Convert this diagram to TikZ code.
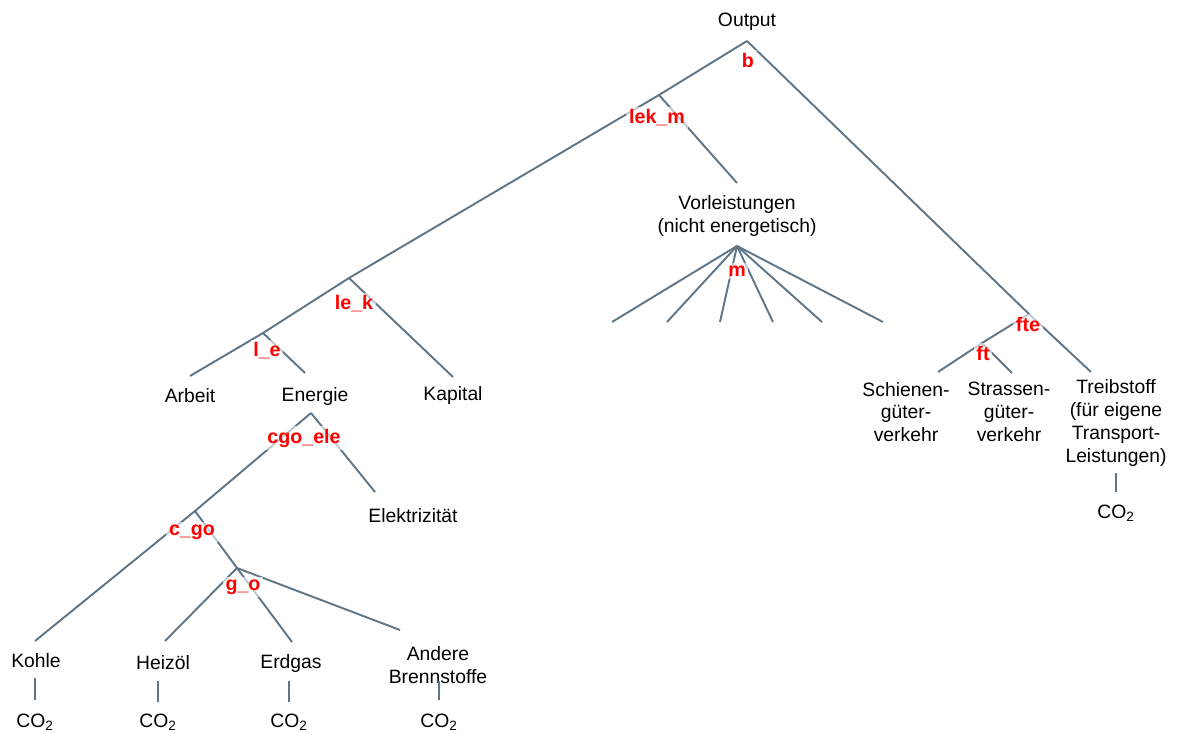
\documentclass[tikz,border=0pt]{standalone}
\usepackage{fontspec}
\setmainfont{Liberation Sans}
\usepackage{tikz}
\usetikzlibrary{positioning}
\usepackage{xcolor}
\definecolor{treeline}{RGB}{96,118,134}

\begin{document}
\begin{tikzpicture}[
    x=0.02cm, y=-0.02cm,
    branch/.style={draw=treeline, line width=1.1pt},
    leaf/.style={align=center, inner sep=0pt, font=\fontsize{11}{13}\selectfont},
    param/.style={text=red, font=\bfseries\fontsize{11.2}{12}\selectfont, fill=white, fill opacity=0.6, text opacity=1, inner sep=1.5pt}
]
    \useasboundingbox (0,0) rectangle (1181,733);

    % Junctions and line ends
    \coordinate (jB) at (747,41);
    \coordinate (jLekM) at (659,95);
    \coordinate (jLeK) at (349,278);
    \coordinate (jLE) at (263,333);
    \coordinate (jM) at (737,246);
    \coordinate (jFte) at (1029,314);
    \coordinate (jFt) at (982,343);
    \coordinate (jCgoEle) at (311,413);
    \coordinate (jCgo) at (195,511);
    \coordinate (jGo) at (237,568);
    \coordinate (tArbeit) at (190,376);
    \coordinate (tEnergie) at (305,373);
    \coordinate (tKapital) at (453,377);
    \coordinate (tVorl) at (737,183);
    \coordinate (tSchienen) at (938,372);
    \coordinate (tStrassen) at (1012,373);
    \coordinate (tTreib) at (1091,372);
    \coordinate (tElek) at (375,492);
    \coordinate (tKohle) at (35,641);
    \coordinate (tHeiz) at (165,641);
    \coordinate (tErd) at (292,642);
    \coordinate (tAndere) at (400,630);

    % Texts
    \node[leaf] (output) at (747,22) {Output};
    \node[leaf] (vorl) at (737,216) {Vorleistungen\\(nicht energetisch)};
    \node[leaf] (arbeit) at (190,396) {Arbeit};
    \node[leaf] (energie) at (315,397) {Energie};
    \node[leaf] (kapital) at (453,396) {Kapital};
    \node[leaf] (elek) at (413,516) {Elektrizität};
    \node[leaf] (kohle) at (36,661) {Kohle};
    \node[leaf] (heizoel) at (163,663) {Heizöl};
    \node[leaf] (erdgas) at (291,664) {Erdgas};
    \node[leaf] (andere) at (438,665) {Andere\\Brennstoffe};
    \node[leaf] (schienen) at (906,412) {Schienen-\\güter-\\verkehr};
    \node[leaf] (strassen) at (1009,412) {Strassen-\\güter-\\verkehr};
    \node[leaf] (treib) at (1116,423) {Treibstoff\\(für eigene\\Transport-\\Leistungen)};
    \node[leaf] (coKohle) at (35,722) {CO\textsubscript{2}};
    \node[leaf] (coHeiz) at (158,722) {CO\textsubscript{2}};
    \node[leaf] (coErd) at (289,722) {CO\textsubscript{2}};
    \node[leaf] (coAndere) at (439,722) {CO\textsubscript{2}};
    \node[leaf] (coTreib) at (1116,513) {CO\textsubscript{2}};

    % Tree
    \draw[branch] (jB) -- (jLekM) -- (jLeK) -- (jLE) -- (tArbeit);
    \draw[branch] (jLE) -- (tEnergie);
    \draw[branch] (jLeK) -- (tKapital);
    \draw[branch] (jLekM) -- (tVorl);
    \draw[branch] (jB) -- (jFte) -- (tTreib);
    \draw[branch] (jFte) -- (jFt) -- (tSchienen);
    \draw[branch] (jFt) -- (tStrassen);
    \foreach \x [count=\i] in {612,667,720,773,822,883} {
        \coordinate (tM\i) at (\x,322);
        \draw[branch] (jM) -- (tM\i);
    }
    \draw[branch] (jCgoEle) -- (jCgo) -- (tKohle);
    \draw[branch] (jCgoEle) -- (tElek);
    \draw[branch] (jCgo) -- (jGo) -- (tErd);
    \draw[branch] (jGo) -- (tHeiz);
    \draw[branch] (jGo) -- (tAndere);

    % CO2 stubs
    \draw[branch] (35,678) coordinate (sKohle) -- (35,700);
    \draw[branch] (158,681) coordinate (sHeiz) -- (158,702);
    \draw[branch] (289,681) coordinate (sErd) -- (289,702);
    \draw[branch] (439,681) coordinate (sAndere) -- (439,700);
    \draw[branch] (1116,473) coordinate (sTreib) -- (1116,492);

    % Parameters
    \node[param] (pB) at (748,60) {b};
    \node[param] (pLekM) at (657,118) {lek\_m};
    \node[param] (pLeK) at (354,304) {le\_k};
    \node[param] (pLE) at (267,351) {l\_e};
    \node[param] (pM) at (737,271) {m};
    \node[param] (pFte) at (1028,324) {fte};
    \node[param] (pFt) at (983,353) {ft};
    \node[param] (pCgoEle) at (304,438) {cgo\_ele};
    \node[param] (pCgo) at (192,532) {c\_go};
    \node[param] (pGo) at (243,587) {g\_o};
\end{tikzpicture}
\end{document}
